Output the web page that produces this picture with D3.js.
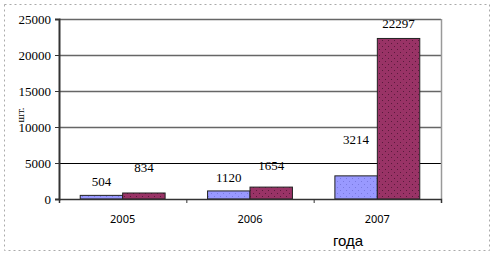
<!DOCTYPE html>
<html><head><meta charset="utf-8">
<script src="https://cdn.jsdelivr.net/npm/d3@7"></script>
<style>body{margin:0;background:#fff}svg{display:block}</style>
</head><body>
<svg id="c" width="497" height="258"></svg>
<script>
const categories = ["2005", "2006", "2007"];
const seriesA = [504, 1120, 3214];
const seriesB = [834, 1654, 22297];
const yTicks = [0, 5000, 10000, 15000, 20000, 25000];
// label lift above bar tops (layout)
const liftA = [13, 13, 36];
const liftB = [25, 21, 14];

const svg = d3.select("#c");
const defs = svg.append("defs");
function pat(id, fill, dot) {
  const p = defs.append("pattern").attr("id", id).attr("patternUnits", "userSpaceOnUse")
    .attr("width", 6).attr("height", 6);
  p.append("rect").attr("width", 6).attr("height", 6).attr("fill", fill);
  p.append("rect").attr("x", 1).attr("y", 1).attr("width", 1).attr("height", 1).attr("fill", dot);
  p.append("rect").attr("x", 4).attr("y", 4).attr("width", 1).attr("height", 1).attr("fill", dot);
}
pat("pA", "#9999ff", "#7a7ae0");
pat("pB", "#993366", "#5a1a3c");

// outer border
svg.append("rect").attr("x", 4.5).attr("y", 4.5).attr("width", 485).attr("height", 246)
  .attr("fill", "none").attr("stroke", "#aaa").attr("stroke-dasharray", "2,3");

const L = 59, R = 441, T = 19, B = 199;
const x = d3.scaleBand().domain(categories).range([L, R]).paddingInner(1/3).paddingOuter(1/6);
const y = d3.scaleLinear().domain([0, 25000]).range([B, T]);

// gridlines
svg.append("g").selectAll("line").data(yTicks.filter(d => d > 0)).join("line")
  .attr("x1", L).attr("x2", R).attr("y1", d => y(d) + 0.5).attr("y2", d => y(d) + 0.5)
  .attr("stroke", d => d === 5000 ? "#000" : "#666").attr("stroke-width", d => d === 5000 ? 1 : 1.5);
// right frame
svg.append("line").attr("x1", R + 0.5).attr("x2", R + 0.5).attr("y1", T).attr("y2", B)
  .attr("stroke", "#999").attr("stroke-width", 1.5);

// y axis
const yAxis = d3.axisLeft(y).tickValues(yTicks).tickSize(4).tickPadding(4).tickFormat(d3.format("d"));
const ga = svg.append("g").attr("transform", `translate(${L},0)`).call(yAxis);
ga.select(".domain").attr("stroke", "#333").attr("stroke-width", 2);
ga.selectAll(".tick line").attr("stroke", "#333");
ga.selectAll("text").attr("font-family", "Liberation Serif, Times New Roman, serif")
  .attr("font-size", 13).attr("fill", "#000");

// bars
const bw = x.bandwidth() / 2;
const g = svg.append("g");
g.selectAll("rect.a").data(categories).join("rect").attr("class", "a")
  .attr("x", d => x(d)).attr("width", bw)
  .attr("y", (d, i) => y(seriesA[i])).attr("height", (d, i) => y(0) - y(seriesA[i]))
  .attr("fill", "url(#pA)").attr("stroke", "#222").attr("stroke-width", 1);
g.selectAll("rect.b").data(categories).join("rect").attr("class", "b")
  .attr("x", d => x(d) + bw).attr("width", bw)
  .attr("y", (d, i) => y(seriesB[i])).attr("height", (d, i) => y(0) - y(seriesB[i]))
  .attr("fill", "url(#pB)").attr("stroke", "#222").attr("stroke-width", 1);

// x axis
const xAxis = d3.axisBottom(d3.scaleLinear().domain([0, 3]).range([L, R])).tickValues([0, 1, 2, 3]).tickSize(4).tickFormat("");
const gx = svg.append("g").attr("transform", `translate(0,${B})`).call(xAxis);
gx.select(".domain").attr("stroke", "#333").attr("stroke-width", 1.5);
gx.selectAll(".tick line").attr("stroke", "#333");
svg.append("g").selectAll("text").data(categories).join("text")
  .attr("x", d => x(d) + x.bandwidth() / 2).attr("y", 223)
  .attr("text-anchor", "middle").attr("font-family", "Noto Sans, Liberation Sans, sans-serif")
  .attr("font-size", 11).text(d => d);

// value labels
const lf = "Liberation Serif, Times New Roman, serif";
svg.append("g").selectAll("text").data(categories).join("text")
  .attr("x", d => x(d) + bw / 2).attr("y", (d, i) => y(seriesA[i]) - liftA[i] + 4)
  .attr("text-anchor", "middle").attr("font-family", lf).attr("font-size", 13).text((d, i) => seriesA[i]);
svg.append("g").selectAll("text").data(categories).join("text")
  .attr("x", d => x(d) + bw * 1.5).attr("y", (d, i) => y(seriesB[i]) - liftB[i] + 4)
  .attr("text-anchor", "middle").attr("font-family", lf).attr("font-size", 13).text((d, i) => seriesB[i]);

// axis titles
svg.append("text").attr("transform", "translate(24,115) rotate(-90)").attr("text-anchor", "middle")
  .attr("font-family", lf).attr("font-size", 11).text("шт.");
svg.append("text").attr("x", 348).attr("y", 246).attr("text-anchor", "middle")
  .attr("font-family", "Liberation Sans, Arial, sans-serif").attr("font-size", 15).text("года");
</script>
</body></html>
